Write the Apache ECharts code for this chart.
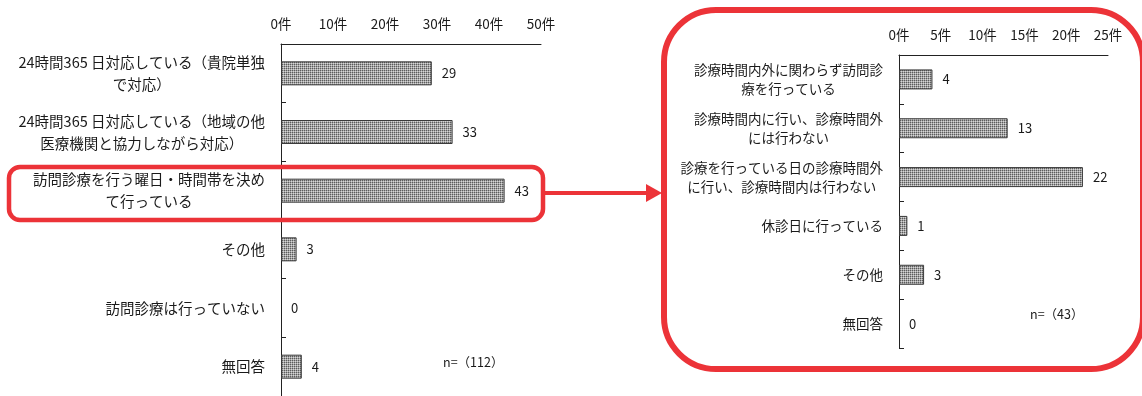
<!DOCTYPE html>
<html>
<head>
<meta charset="utf-8">
<script src="https://cdn.jsdelivr.net/npm/echarts@6/dist/echarts.min.js"></script>
<style>
  html, body { margin: 0; padding: 0; background: #fff; }
  #chart { width: 1142px; height: 396px; }
</style>
</head>
<body>
<div id="chart"></div>
<script>
// 訪問診療の実施状況（全体）
const mainCategories = [
  '24時間365 日対応している（貴院単独\nで対応）',
  '24時間365 日対応している（地域の他\n医療機関と協力しながら対応）',
  '訪問診療を行う曜日・時間帯を決め\nて行っている',
  'その他',
  '訪問診療は行っていない',
  '無回答'
];
const mainValues = [29, 33, 43, 3, 0, 4];
const mainTicks = [0, 10, 20, 30, 40, 50];
const mainN = 'n=（112）';

// 曜日・時間帯を決めて行っている施設の内訳
const subCategories = [
  '診療時間内外に関わらず訪問診\n療を行っている',
  '診療時間内に行い、診療時間外\nには行わない',
  '診療を行っている日の診療時間外\nに行い、診療時間内は行わない',
  '休診日に行っている',
  'その他',
  '無回答'
];
const subValues = [4, 13, 22, 1, 3, 0];
const subTicks = [0, 5, 10, 15, 20, 25];
const subN = 'n=（43）';

const FONT = '"Noto Sans CJK JP", "Noto Sans", sans-serif';
const TEXT = '#1a1a1a';
const RED = '#ec3338';

// fine dotted fill for the bars
function dotted() {
  const c = document.createElement('canvas');
  c.width = 2; c.height = 2;
  const g = c.getContext('2d');
  g.fillStyle = '#5c5c5c'; g.fillRect(0, 0, 1, 1);
  g.fillStyle = '#a4a4a4'; g.fillRect(1, 0, 1, 1); g.fillRect(0, 1, 1, 1);
  g.fillStyle = '#d6d6d6'; g.fillRect(1, 1, 1, 1);
  return c;
}
const barFill = { image: dotted(), repeat: 'repeat' };

function centeredLines(v) {
  return v.split('\n').map(s => '{c|' + s + '}').join('\n');
}

function valueAxis(gridIndex, ticks) {
  return {
    type: 'value',
    gridIndex: gridIndex,
    position: 'top',
    min: ticks[0],
    max: ticks[ticks.length - 1],
    interval: ticks[1] - ticks[0],
    axisLine: { show: true, lineStyle: { color: '#222', width: 1 } },
    axisTick: { show: false },
    splitLine: { show: false },
    axisLabel: {
      margin: 13,
      color: TEXT,
      fontFamily: FONT,
      fontSize: 13.5,
      formatter: v => v + '件'
    }
  };
}

function categoryAxis(gridIndex, cats, fontSize, lineHeight) {
  return {
    type: 'category',
    gridIndex: gridIndex,
    data: cats,
    inverse: true,
    axisLine: { show: true, onZero: false, lineStyle: { color: '#222', width: 1 } },
    axisTick: { show: true, inside: true, length: 5, lineStyle: { color: '#222' } },
    axisLabel: {
      margin: 16,
      color: TEXT,
      fontFamily: FONT,
      fontSize: fontSize,
      formatter: centeredLines,
      rich: {
        c: { align: 'center', color: TEXT, fontFamily: FONT, fontSize: fontSize, lineHeight: lineHeight }
      }
    }
  };
}

function barSeries(idx, values, width) {
  return {
    type: 'bar',
    xAxisIndex: idx,
    yAxisIndex: idx,
    // an empty bar gets no outline, only its value label
    data: values.map(v => v === 0 ? { value: v, itemStyle: { borderWidth: 0 } } : v),
    barWidth: width,
    itemStyle: { color: barFill, borderColor: '#3a3a3a', borderWidth: 1 },
    label: {
      show: true,
      position: 'right',
      distance: 10,
      color: TEXT,
      fontFamily: FONT,
      fontSize: 13
    },
    animation: false
  };
}

const chart = echarts.init(document.getElementById('chart'), null, { renderer: 'canvas' });
chart.setOption({
  animation: false,
  grid: [
    { left: 281, top: 44, width: 260, height: 358 },
    { left: 899, top: 55, width: 209, height: 293 }
  ],
  xAxis: [valueAxis(0, mainTicks), valueAxis(1, subTicks)],
  yAxis: [
    categoryAxis(0, mainCategories, 14.5, 22),
    categoryAxis(1, subCategories, 13.5, 19)
  ],
  series: [barSeries(0, mainValues, 24), barSeries(1, subValues, 20)],
  graphic: [
    {
      type: 'rect', z: 100,
      shape: { x: 9, y: 167, width: 534, height: 53, r: 11 },
      style: { fill: 'none', stroke: RED, lineWidth: 4.5 }
    },
    {
      type: 'rect', z: 100,
      shape: { x: 664, y: 10, width: 479, height: 359, r: 52 },
      style: { fill: 'none', stroke: RED, lineWidth: 6 }
    },
    {
      type: 'line', z: 100,
      shape: { x1: 545, y1: 193, x2: 650, y2: 193 },
      style: { stroke: RED, lineWidth: 4 }
    },
    {
      type: 'polygon', z: 100,
      shape: { points: [[646, 184], [662, 193], [646, 202]] },
      style: { fill: RED }
    },
    {
      type: 'text', z: 100,
      style: { x: 443, y: 362, text: mainN, fill: TEXT, font: '12.5px ' + FONT, verticalAlign: 'middle' }
    },
    {
      type: 'text', z: 100,
      style: { x: 1030, y: 314, text: subN, fill: TEXT, font: '12.5px ' + FONT, verticalAlign: 'middle' }
    }
  ]
});
</script>
</body>
</html>
